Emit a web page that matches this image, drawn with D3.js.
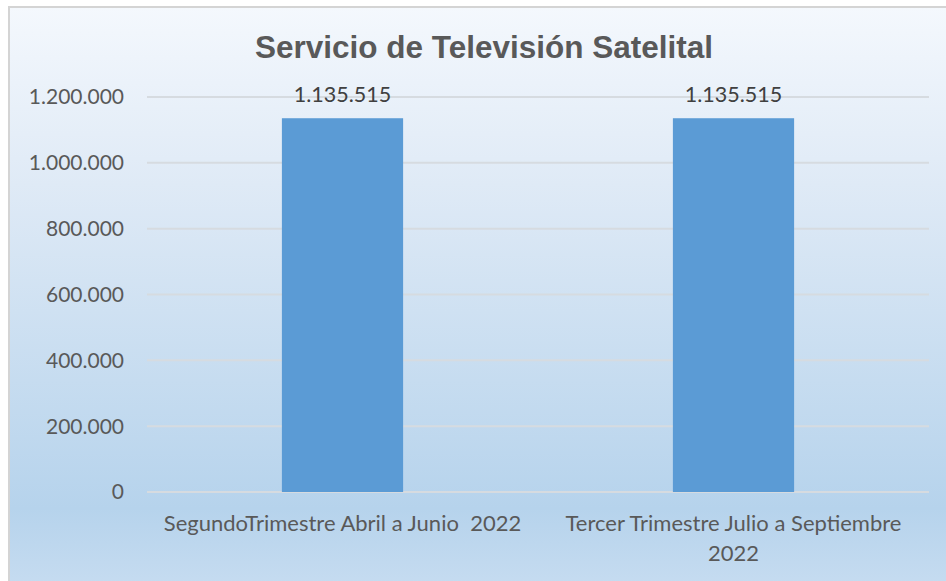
<!DOCTYPE html>
<html><head><meta charset="utf-8">
<script src="https://cdn.jsdelivr.net/npm/d3@7/dist/d3.min.js"></script>
<style>body{margin:0;background:#fff;}svg{display:block;}</style>
</head><body>
<svg id="c" width="946" height="581"></svg>
<script>
const categories = [["SegundoTrimestre Abril a Junio  2022"], ["Tercer Trimestre Julio a Septiembre", "2022"]];
const values = [1135515, 1135515];
const yTicks = [0, 200000, 400000, 600000, 800000, 1000000, 1200000];
const title = "Servicio de Televisión Satelital";

const svg = d3.select("#c");
const defs = svg.append("defs");
const g = defs.append("linearGradient").attr("id","bg").attr("x1",0).attr("y1",0).attr("x2",0).attr("y2",1);
g.append("stop").attr("offset","0").attr("stop-color","#f4f8fd");
g.append("stop").attr("offset","0.3").attr("stop-color","#dfeaf6");
g.append("stop").attr("offset","0.85").attr("stop-color","#b6d3ec");
g.append("stop").attr("offset","1").attr("stop-color","#c8ddf1");

svg.append("rect").attr("x",0).attr("y",0).attr("width",946).attr("height",581).attr("fill","#fff");
svg.append("rect").attr("x",9).attr("y",7).attr("width",950).attr("height",590)
  .attr("fill","url(#bg)").attr("stroke","#d4d4d4").attr("stroke-width",2);

const fmt = v => d3.format(",")(v).replace(/,/g,".");
const font = "Lato, 'Open Sans', sans-serif";

const x = d3.scaleBand().domain(d3.range(categories.length)).range([147, 929]).padding(0);
const y = d3.scaleLinear().domain([0, 1200000]).range([492, 97]);

svg.append("g").selectAll("line").data(yTicks).join("line")
  .attr("x1",147).attr("x2",929).attr("y1",d=>y(d)).attr("y2",d=>y(d))
  .attr("stroke","#d6dbe0").attr("stroke-width",2);

svg.append("g").selectAll("text").data(yTicks).join("text")
  .attr("x",124).attr("y",d=>y(d)).attr("dy","0.35em").attr("text-anchor","end")
  .attr("font-family",font).attr("font-size",21).attr("fill","#595959")
  .text(d=>fmt(d));

const bw = x.bandwidth()*0.31;
svg.append("g").selectAll("rect").data(values).join("rect")
  .attr("x",(d,i)=>x(i)+x.bandwidth()/2-bw/2).attr("width",bw)
  .attr("y",d=>y(d)).attr("height",d=>y(0)-y(d)).attr("fill","#5b9bd5");

svg.append("g").selectAll("text").data(values).join("text")
  .attr("x",(d,i)=>x(i)+x.bandwidth()/2).attr("y",d=>y(d)-16)
  .attr("text-anchor","middle").attr("font-family",font).attr("font-size",21.5).attr("fill","#404040")
  .text(d=>fmt(d));

const cl = svg.append("g").selectAll("text").data(categories).join("text")
  .attr("x",(d,i)=>x(i)+x.bandwidth()/2).attr("y",531).attr("text-anchor","middle")
  .attr("font-family",font).attr("font-size",22).attr("fill","#595959")
  .attr("xml:space","preserve").style("white-space","pre");
cl.each(function(d,i){
  const t = d3.select(this);
  d.forEach((line,j)=>{
    t.append("tspan").attr("x",x(i)+x.bandwidth()/2).attr("y",531+j*30).text(line);
  });
});

svg.append("text").attr("x",484).attr("y",58).attr("text-anchor","middle")
  .attr("font-family","'Liberation Sans', Arial, sans-serif").attr("font-weight","bold")
  .attr("font-size",31.5).attr("fill","#595959").text(title);
</script>
</body></html>
